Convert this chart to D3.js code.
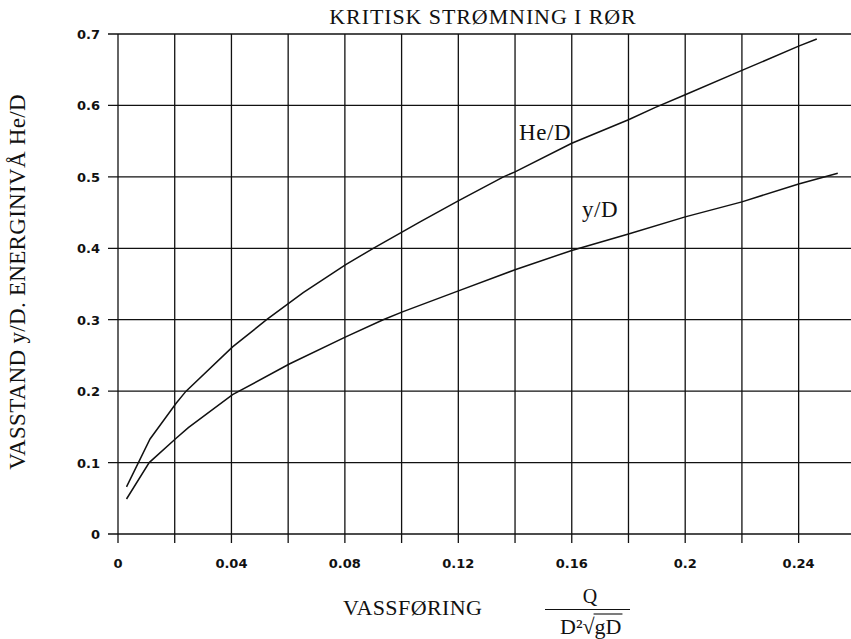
<!DOCTYPE html>
<html>
<head>
<meta charset="utf-8">
<script src="https://cdn.jsdelivr.net/npm/d3@7"></script>
<style>
  body { margin: 0; background: #fff; }
  svg { display: block; }
</style>
</head>
<body>
<svg id="chart"></svg>
<script>
// tick values and labels
const xGrid = [0, 0.02, 0.04, 0.06, 0.08, 0.10, 0.12, 0.14, 0.16, 0.18, 0.20, 0.22, 0.24];
const xLabels = ['0', '0.04', '0.08', '0.12', '0.16', '0.2', '0.24'];
const yGrid = [0, 0.1, 0.2, 0.3, 0.4, 0.5, 0.6, 0.7];
const yLabels = ['0', '0.1', '0.2', '0.3', '0.4', '0.5', '0.6', '0.7'];

// He/D curve
const qHe = [0.003, 0.0113, 0.0205, 0.024, 0.0404, 0.0524, 0.0653, 0.0803, 0.090, 0.1065,
             0.1198, 0.1359, 0.140, 0.160, 0.180, 0.1893, 0.200, 0.220, 0.240, 0.2464];
const He = [0.066, 0.133, 0.183, 0.200, 0.262, 0.300, 0.338, 0.377, 0.400, 0.437,
            0.466, 0.500, 0.507, 0.547, 0.580, 0.597, 0.615, 0.649, 0.683, 0.693];

// y/D curve
const qY = [0.003, 0.011, 0.0205, 0.0248, 0.0404, 0.0604, 0.0803, 0.0935, 0.1003, 0.1198,
            0.140, 0.160, 0.180, 0.200, 0.220, 0.240, 0.2538];
const yD = [0.049, 0.100, 0.134, 0.149, 0.195, 0.238, 0.276, 0.300, 0.311, 0.340,
            0.370, 0.397, 0.420, 0.444, 0.465, 0.490, 0.505];

const width = 851, height = 639;
const serif = '"Liberation Serif", "Times New Roman", serif';
const sans = '"DejaVu Sans", sans-serif';

const svg = d3.select('#chart')
    .attr('width', width)
    .attr('height', height);

const x = d3.scaleLinear().domain([0, 0.26]).range([118, 118 + 0.26 * 2836]);
const y = d3.scaleLinear().domain([0, 0.7]).range([534, 34]);

const ink = '#111';

// vertical grid, runs a bit below the axis as tick marks
svg.append('g')
    .selectAll('line')
    .data(xGrid)
    .join('line')
    .attr('x1', d => x(d)).attr('x2', d => x(d))
    .attr('y1', y(0.7)).attr('y2', y(0) + 9)
    .attr('stroke', ink)
    .attr('stroke-width', 1.3);

// horizontal grid, runs a bit left of the axis
svg.append('g')
    .selectAll('line')
    .data(yGrid)
    .join('line')
    .attr('x1', x(0) - 10).attr('x2', width)
    .attr('y1', d => y(d)).attr('y2', d => y(d))
    .attr('stroke', ink)
    .attr('stroke-width', 1.3);

// tick labels
svg.append('g')
    .selectAll('text')
    .data(xLabels)
    .join('text')
    .attr('x', d => x(+d))
    .attr('y', 568)
    .attr('text-anchor', 'middle')
    .attr('font-family', sans)
    .attr('font-weight', 'bold')
    .attr('font-size', 13)
    .attr('fill', ink)
    .text(d => d);

svg.append('g')
    .selectAll('text')
    .data(yLabels)
    .join('text')
    .attr('x', 100)
    .attr('y', d => y(+d) + 5)
    .attr('text-anchor', 'end')
    .attr('font-family', sans)
    .attr('font-weight', 'bold')
    .attr('font-size', 13)
    .attr('fill', ink)
    .text(d => d);

// curves
const line = d3.line()
    .x(d => x(d[0]))
    .y(d => y(d[1]));

svg.append('path')
    .attr('d', line(d3.zip(qHe, He)))
    .attr('fill', 'none')
    .attr('stroke', ink)
    .attr('stroke-width', 1.5);

svg.append('path')
    .attr('d', line(d3.zip(qY, yD)))
    .attr('fill', 'none')
    .attr('stroke', ink)
    .attr('stroke-width', 1.5);

// curve labels
svg.append('text')
    .attr('x', 519).attr('y', 140)
    .attr('font-family', serif).attr('font-size', 23)
    .attr('letter-spacing', 0.6)
    .attr('fill', ink)
    .text('He/D');

svg.append('text')
    .attr('x', 582).attr('y', 217)
    .attr('font-family', serif).attr('font-size', 23)
    .attr('letter-spacing', 0.5)
    .attr('fill', ink)
    .text('y/D');

// title
svg.append('text')
    .attr('x', 483).attr('y', 24)
    .attr('text-anchor', 'middle')
    .attr('font-family', serif).attr('font-size', 22)
    .attr('letter-spacing', 0.9)
    .attr('fill', ink)
    .text('KRITISK STRØMNING I RØR');

// y axis title
svg.append('text')
    .attr('transform', 'translate(25,282) rotate(-90)')
    .attr('text-anchor', 'middle')
    .attr('font-family', serif).attr('font-size', 23)
    .attr('letter-spacing', 0.3)
    .attr('fill', ink)
    .text('VASSTAND y/D. ENERGINIVÅ He/D');

// x axis title
svg.append('text')
    .attr('x', 343).attr('y', 615)
    .attr('font-family', serif).attr('font-size', 22)
    .attr('letter-spacing', 0.4)
    .attr('fill', ink)
    .text('VASSFØRING');

// fraction Q / (D² √gD)
svg.append('text')
    .attr('x', 590).attr('y', 603)
    .attr('text-anchor', 'middle')
    .attr('font-family', serif).attr('font-size', 20)
    .attr('fill', ink)
    .text('Q');

svg.append('line')
    .attr('x1', 545).attr('x2', 630)
    .attr('y1', 609.5).attr('y2', 609.5)
    .attr('stroke', ink).attr('stroke-width', 1.2);

const den = svg.append('text')
    .attr('x', 560).attr('y', 634)
    .attr('font-family', serif).attr('font-size', 22)
    .attr('fill', ink);
den.append('tspan').text('D²');
den.append('tspan').text('√');
den.append('tspan').text('gD');

// bar over the radicand
const startG = den.node().getStartPositionOfChar(3).x;
const endG = den.node().getEndPositionOfChar(4).x;
svg.append('line')
    .attr('x1', startG - 1).attr('x2', endG + 1)
    .attr('y1', 614).attr('y2', 614)
    .attr('stroke', ink).attr('stroke-width', 1.1);
</script>
</body>
</html>
